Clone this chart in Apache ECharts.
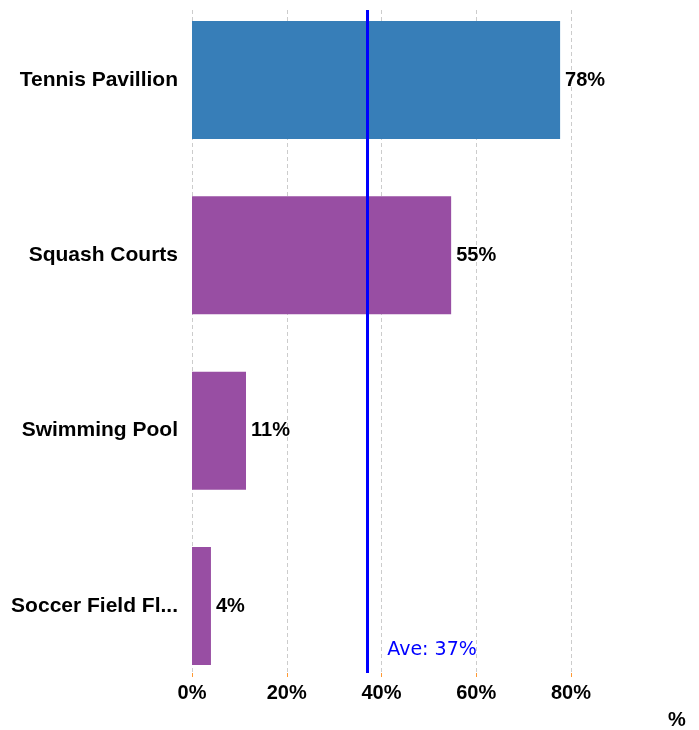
<!DOCTYPE html>
<html>
<head>
<meta charset="utf-8">
<script src="https://cdn.jsdelivr.net/npm/echarts@6/dist/echarts.min.js"></script>
<style>
  html, body { margin: 0; padding: 0; background: #ffffff; }
  #chart { width: 699px; height: 730px; }
</style>
</head>
<body>
<div id="chart"></div>
<script>
  // data
  const categories = ['Tennis Pavillion', 'Squash Courts', 'Swimming Pool', 'Soccer Field Floodlights']
  const values = [77.7, 54.7, 11.4, 4.0]
  const barColors = ['#377eb8', '#984ea3', '#984ea3', '#984ea3']
  const xTicks = [0, 20, 40, 60, 80]

  const avg = values.reduce((a, b) => a + b, 0) / values.length
  const FONT = 'Liberation Sans, Arial, sans-serif'

  let myChart = echarts.init(document.getElementById('chart'))
  let option = {
    animation: false,
    grid: [
      // bars: categories sit on the ticks (first bar centre to last bar centre)
      { left: 192, right: 128, top: 80, bottom: 124, containLabel: false },
      // gridlines, ticks, average line
      { left: 192, right: 128, top: 10, bottom: 54, containLabel: false }
    ],
    xAxis: [
      {
        gridIndex: 0, type: 'value', min: 0, max: xTicks[xTicks.length - 1], interval: 20,
        show: false
      },
      {
        gridIndex: 1, type: 'value', min: 0, max: xTicks[xTicks.length - 1], interval: 20,
        name: '%',
        nameLocation: 'end',
        nameGap: 97,
        nameTextStyle: {
          color: '#000', fontWeight: 'bold', fontSize: 20, fontFamily: FONT,
          verticalAlign: 'top', padding: [37, 0, 0, 0]
        },
        axisLine: { show: false },
        axisTick: { show: true, length: 4, lineStyle: { color: '#ff9933', width: 1 } },
        axisLabel: {
          margin: 10, color: '#000', fontWeight: 'bold', fontSize: 20, fontFamily: FONT,
          formatter: v => v + '%'
        },
        splitLine: { show: true, lineStyle: { color: '#cccccc', type: [4, 3], width: 1 } }
      }
    ],
    yAxis: [
      {
        gridIndex: 0, type: 'category', data: categories, inverse: true,
        boundaryGap: false,
        axisLine: { show: false },
        axisTick: { show: false },
        splitLine: { show: false },
        axisLabel: {
          margin: 14, color: '#000', fontWeight: 'bold', fontSize: 21, fontFamily: FONT,
          width: 172, overflow: 'truncate', ellipsis: '...'
        }
      },
      { gridIndex: 1, type: 'value', min: 0, max: 1, show: false }
    ],
    series: [
      {
        type: 'bar',
        xAxisIndex: 0, yAxisIndex: 0,
        data: values.map((v, i) => ({ value: v, itemStyle: { color: barColors[i] } })),
        barWidth: 118,
        label: {
          show: true, position: 'right', distance: 5,
          color: '#000', fontWeight: 'bold', fontSize: 20, fontFamily: FONT,
          formatter: p => Math.round(p.value) + '%'
        }
      },
      {
        type: 'line',
        xAxisIndex: 1, yAxisIndex: 1,
        data: [],
        silent: true,
        markLine: {
          symbol: 'none',
          silent: true,
          lineStyle: { color: '#0000ff', width: 3, type: 'solid' },
          label: {
            show: true, position: 'start', distance: 0,
            offset: [65, -32],
            color: '#0000ff', fontSize: 19, fontFamily: 'DejaVu Sans, Verdana, sans-serif',
            formatter: () => 'Ave: ' + Math.round(avg) + '%'
          },
          data: [{ xAxis: avg }]
        }
      }
    ]
  }
  myChart.setOption(option)
</script>
</body>
</html>
